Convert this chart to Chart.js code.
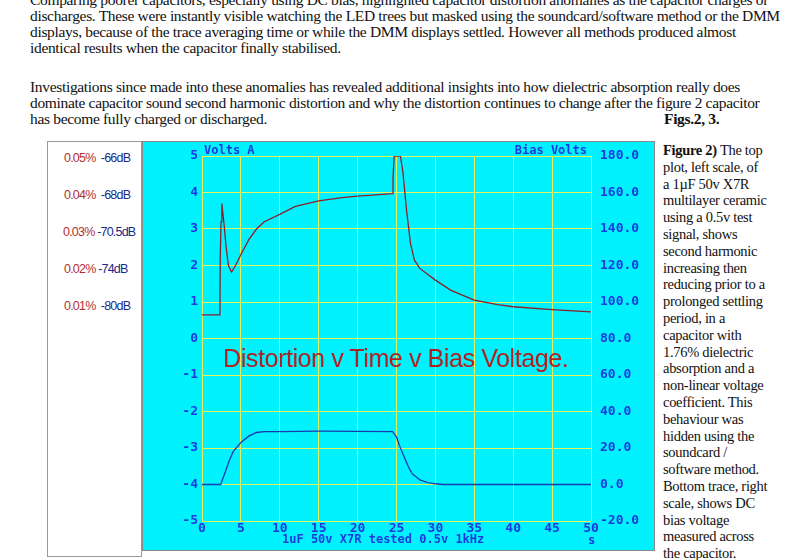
<!DOCTYPE html>
<html><head><meta charset="utf-8">
<script src="https://cdn.jsdelivr.net/npm/chart.js@4"></script>
<style>
body{margin:0;width:800px;height:560px;background:#fff;position:relative;overflow:hidden;font-family:"Liberation Serif",serif;}
.p{position:absolute;left:30px;white-space:nowrap;font-size:15.5px;line-height:16px;color:#111;letter-spacing:-0.33px;}
#panel{position:absolute;left:47px;top:141px;width:93px;height:414px;border:1px solid #999;background:#fff;}
.lab{position:absolute;left:16px;font-family:"Liberation Sans",Arial,sans-serif;font-size:12.5px;letter-spacing:-0.8px;}
.lab .r{color:#b03030}.lab .b{color:#1a2a8a}
#box{position:absolute;left:142px;top:141px;width:513px;height:410px;background:#00f2ff;border:1px solid #888;box-sizing:border-box;}
#cap{position:absolute;left:663px;top:142px;font-size:14.5px;line-height:16.8px;color:#111;white-space:nowrap;letter-spacing:-0.3px;}
#title{position:absolute;left:223px;top:344px;font-family:"Liberation Sans",Arial,sans-serif;font-size:25px;color:#b02020;letter-spacing:-0.4px;}
</style></head><body>
<div class="p" style="top:-8px">Comparing poorer capacitors, especially using DC bias, highlighted capacitor distortion anomalies as the capacitor charges or</div>
<div class="p" style="top:8px">discharges. These were instantly visible watching the LED trees but masked using the soundcard/software method or the DMM</div>
<div class="p" style="top:24px">displays, because of the trace averaging time or while the DMM displays settled. However all methods produced almost</div>
<div class="p" style="top:40px">identical results when the capacitor finally stabilised.</div>
<div class="p" style="top:79px">Investigations since made into these anomalies has revealed additional insights into how dielectric absorption really does</div>
<div class="p" style="top:95px">dominate capacitor sound second harmonic distortion and why the distortion continues to change after the figure 2 capacitor</div>
<div class="p" style="top:111px">has become fully charged or discharged.</div>
<div class="p" style="top:111px;left:664px;font-weight:bold">Figs.2, 3.</div>
<div id="panel">
<div class="lab" style="top:9px"><span class="r">0.05%</span>&nbsp; <span class="b">-66dB</span></div>
<div class="lab" style="top:46px"><span class="r">0.04%</span>&nbsp; <span class="b">-68dB</span></div>
<div class="lab" style="top:83px;left:15px"><span class="r">0.03%</span>&nbsp;<span class="b">-70.5dB</span></div>
<div class="lab" style="top:120px"><span class="r">0.02%</span>&nbsp;<span class="b">-74dB</span></div>
<div class="lab" style="top:157px"><span class="r">0.01%</span>&nbsp; <span class="b">-80dB</span></div>
</div>
<div id="box"><canvas id="c" width="511" height="408"></canvas></div>
<div id="title">Distortion v Time v Bias Voltage.</div>
<div id="cap"><b>Figure 2)</b> The top<br>plot, left scale, of<br>a 1µF 50v X7R<br>multilayer ceramic<br>using a 0.5v test<br>signal, shows<br>second harmonic<br>increasing then<br>reducing prior to a<br>prolonged settling<br>period, in a<br>capacitor with<br>1.76% dielectric<br>absorption and a<br>non-linear voltage<br>coefficient. This<br>behaviour was<br>hidden using the<br>soundcard /<br>software method.<br>Bottom trace, right<br>scale, shows DC<br>bias voltage<br>measured across<br>the capacitor.</div>
<script>
const timeA=[0,2.3,2.35,2.45,2.55,2.8,3.1,3.4,3.8,4.3,5,6,7,8,10,12,15,18,20,22,24.5,24.55,24.7,25.5,25.8,26.3,26.8,27.3,28,30,32,35,38,40,45,50];
const voltsA=[0.65,0.65,2.3,3.2,3.7,3.2,2.5,2.0,1.82,2.0,2.3,2.7,3.0,3.2,3.4,3.62,3.77,3.86,3.9,3.93,3.97,4.4,5,5,4.6,3.5,2.6,2.15,1.92,1.6,1.32,1.05,0.93,0.87,0.79,0.73];
const timeB=[0,2.4,3,3.5,4,5,6,7,8,10,15,20,24.5,25,25.5,26,26.5,27,28,29,30,31,50];
const biasV=[0,0,7,13,18,23,26.5,28.5,29,29,29.2,29.1,29,26,20,15,10,6,2.5,1,0.4,0,0];
const xTicks=[0,5,10,15,20,25,30,35,40,45,50];
const ptsA=timeA.map((t,i)=>({x:t,y:voltsA[i]}));
const ptsB=timeB.map((t,i)=>({x:t,y:biasV[i]}));
const tf={family:'"DejaVu Sans Mono"',size:13,weight:'bold'};
const blue='#1a3ae0';
const labels={id:'labels',afterDraw(ch){const c=ch.ctx,a=ch.chartArea;c.save();c.font='bold 12px "DejaVu Sans Mono"';c.fillStyle=blue;c.textBaseline='middle';c.textAlign='left';c.fillText('Volts A',a.left+2,a.top-5);c.textAlign='right';c.fillText('Bias Volts',a.right-4,a.top-5);c.textAlign='left';c.fillText('1uF 50v X7R tested 0.5v 1kHz',a.left+80,a.bottom+19);c.fillText('s',a.right-3,a.bottom+20);c.restore();}};
new Chart(document.getElementById('c'),{type:'line',
data:{datasets:[
{data:ptsA,yAxisID:'y',borderColor:'#8a1f2a',borderWidth:1.3,pointRadius:0,tension:0},
{data:ptsB,yAxisID:'y2',borderColor:'#1a3ab0',borderWidth:1.3,pointRadius:0,tension:0}]},
options:{responsive:false,animation:false,devicePixelRatio:1,
layout:{padding:{top:14,bottom:0,left:0,right:0}},
plugins:{legend:{display:false},tooltip:{enabled:false}},
scales:{
x:{type:'linear',min:0,max:50,afterBuildTicks:s=>{s.ticks=xTicks.map(v=>({value:v}))},grid:{color:'#e6f05a',drawTicks:false},border:{display:false},ticks:{color:blue,font:tf,padding:0,maxRotation:0},afterFit:s=>{s.height=29}},
y:{position:'left',min:-5,max:5,ticks:{stepSize:1,color:blue,font:tf,padding:4},grid:{color:'#e6f05a',drawTicks:false},border:{display:false},afterFit:s=>{s.width=59}},
y2:{position:'right',min:-20,max:180,ticks:{stepSize:20,color:blue,font:tf,padding:1,callback:v=>v.toFixed(1)},grid:{display:false},border:{display:false},afterFit:s=>{s.width=63}}
}},plugins:[labels]});
</script>
</body></html>
